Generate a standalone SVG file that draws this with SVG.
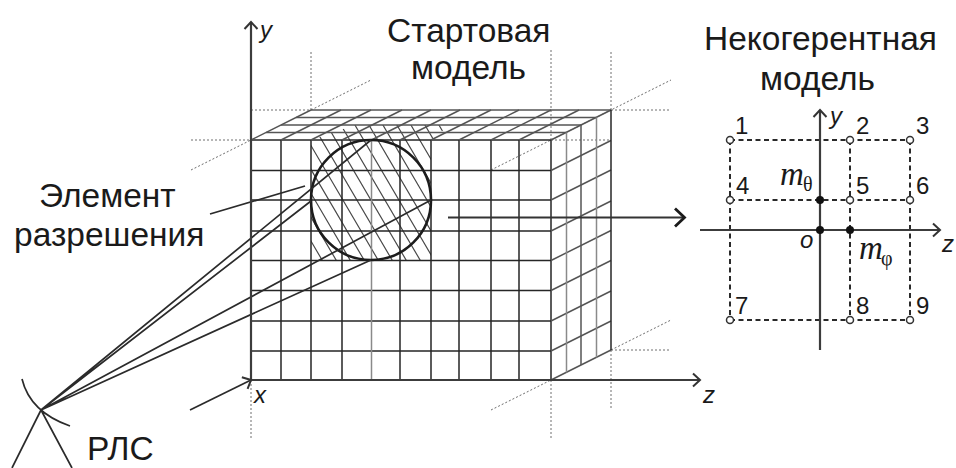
<svg xmlns="http://www.w3.org/2000/svg" width="956" height="468" viewBox="0 0 956 468">
<style>
text{font-family:"Liberation Sans",Arial,sans-serif;fill:#1a1a1a}
.big{font-size:33.500px}
.num{font-size:24px}
.ax{font-size:24px;font-style:italic}
.m{font-family:"Liberation Serif","Times New Roman",serif;font-style:italic;font-size:33px}
.sub{font-family:"Liberation Serif",serif;font-size:20px}
.grid{stroke:#262626;stroke-width:1.5;fill:none}
.top{stroke:#555;stroke-width:1.5;fill:none}
.lite{stroke:#8a8a8a;stroke-width:1.5;fill:none}
.dot{stroke:#6e6e6e;stroke-width:1;stroke-dasharray:2 2;fill:none}
.hatch{stroke:#4a4a4a;stroke-width:1.2;fill:none}
.ln{stroke:#2b2b2b;stroke-width:1.7;fill:none}
.axis{stroke:#3c3c3c;stroke-width:2.200;fill:none}
.dash{stroke:#2a2a2a;stroke-width:2;stroke-dasharray:5 3.500;fill:none}
.node{stroke:#333;stroke-width:1.500;fill:#fff}
</style>
<defs>
<marker id="open" markerUnits="userSpaceOnUse" markerWidth="16" markerHeight="16" refX="11" refY="8" orient="auto"><path d="M4 1.500L11 8L4 14.500" fill="none" stroke="#333" stroke-width="2"/></marker>
<marker id="big" markerUnits="userSpaceOnUse" markerWidth="24" markerHeight="24" refX="16" refY="12" orient="auto"><path d="M6 3L15.500 12L6 21" fill="none" stroke="#1a1a1a" stroke-width="2.800"/></marker>
<clipPath id="hc"><path d="M311 140L355 125H450L431 140V260H311Z"/></clipPath>
</defs>
<g id="guides" class="dot">
<path d="M311 110V50M551 140V50M611 110V50M251 110H311M611 110H671M191 140H251M551 140H611M191 170L251 140M311 110L371 80M491 170L611 110L671 80"/>
<path d="M491 410L551 380M611 350L671 320M551 380V440M611 350V410M611 350H671M251 380V440"/>
</g>
<g id="hatching" class="hatch" clip-path="url(#hc)">
<path d="M212 120l85 145M226 120l85 145M240 120l85 145M254 120l85 145M268 120l85 145M282 120l85 145M296 120l85 145M310 120l85 145M324 120l85 145M338 120l85 145M352 120l85 145M366 120l85 145M380 120l85 145M394 120l85 145M408 120l85 145M422 120l85 145M436 120l85 145"/>
</g>
<g id="start-model">
<path class="grid" d="M251 170.500H551M251 200H551M251 231H551M251 260.500H551M251 290.500H551M251 321H551M251 351H551M251 140H551"/>
<path class="grid" d="M281 140V380M311 140V380M342 140V380M400 140V380M431 140V380M459 140V380M491 140V380M519 140V380M551 140V380"/>
<path class="lite" d="M371.500 140V380"/>
<path class="top" d="M311 110H611M296 117.500H596M281 125H581M266 132.500H566"/>
<path class="top" d="M251 140L311 110M281 140L341 110M311 140L371 110M342 140L402 110M371.500 140L431 110M400 140L460 110M431 140L491 110M459 140L519 110M491 140L551 110M519 140L579 110M551 140L611 110"/>
<path class="top" d="M551 170.500L611 140.500M551 200L611 170M551 231L611 201M551 260.500L611 230.500M551 290.500L611 260.500M551 321L611 291M551 351L611 321M551 380L611 350"/>
<path class="lite" d="M566.500 132.500V372.500M596.500 117.500V357.500"/>
<path class="top" d="M581 125V365"/><path class="grid" d="M611 110V350"/>
<circle cx="371" cy="200" r="60" fill="none" stroke="#1c1c1c" stroke-width="2.600"/>
</g>
<g id="connectors">
<path class="ln" d="M41 410L371 140M41 410L311 201M41 410L431 200M41 410L371 260"/>
<path class="ln" d="M210 214L305 186"/>
<path class="axis" d="M251 380V22" marker-end="url(#open)"/>
<path class="axis" d="M251 380H700" marker-end="url(#open)"/>
<path class="ln" d="M190 410L251 380" marker-end="url(#open)"/>
<path class="axis" style="stroke:#333" d="M448 217.500H685" marker-end="url(#big)"/>
</g>
<g id="radar">
<path class="ln" d="M22 379Q30 412 70 426M41 410L12 468M41 410L72 468"/>
<text class="big" x="87" y="460">РЛС</text>
</g>
<g id="incoherent-model">
<path class="dash" d="M730 140H910M730 200H910M730 320H910M730 140V320M850 140V320M910 140V320"/>
<path class="axis" d="M820 350V110" marker-end="url(#open)"/>
<path class="axis" d="M700 230H940" marker-end="url(#open)"/>
<g class="node"><circle cx="730" cy="140" r="3.500"/><circle cx="850" cy="140" r="3.500"/><circle cx="910" cy="140" r="3.500"/><circle cx="730" cy="200" r="3.500"/><circle cx="850" cy="200" r="3.500"/><circle cx="910" cy="200" r="3.500"/><circle cx="730" cy="320" r="3.500"/><circle cx="850" cy="320" r="3.500"/><circle cx="910" cy="320" r="3.500"/></g>
<g fill="#111"><circle cx="820" cy="200" r="4"/><circle cx="820" cy="230" r="4"/><circle cx="850" cy="230" r="4"/></g>
<text class="num" x="735" y="134">1</text><text class="num" x="856" y="134">2</text><text class="num" x="916" y="134">3</text>
<text class="num" x="736" y="194">4</text><text class="num" x="856" y="194">5</text><text class="num" x="916" y="194">6</text>
<text class="num" x="735" y="314">7</text><text class="num" x="856" y="314">8</text><text class="num" x="916" y="314">9</text>
<text class="ax" x="830" y="124">y</text><text class="ax" x="800" y="248">o</text><text class="ax" x="942" y="252">z</text>
<text class="m" x="780" y="185">m</text><text class="sub" x="803" y="191">θ</text>
<text class="m" x="859" y="259">m</text><text class="sub" x="881" y="265">φ</text>
</g>
<g id="labels">
<text class="big" x="387" y="42">Стартовая</text>
<text class="big" x="411" y="79">модель</text>
<text class="big" x="704" y="50">Некогерентная</text>
<text class="big" x="760" y="90">модель</text>
<text class="big" x="39" y="207">Элемент</text>
<text class="big" x="14" y="246">разрешения</text>
<text class="ax" x="260" y="38">y</text>
<text class="ax" x="254" y="403">x</text>
<text class="ax" x="703" y="403">z</text>
</g>
</svg>
